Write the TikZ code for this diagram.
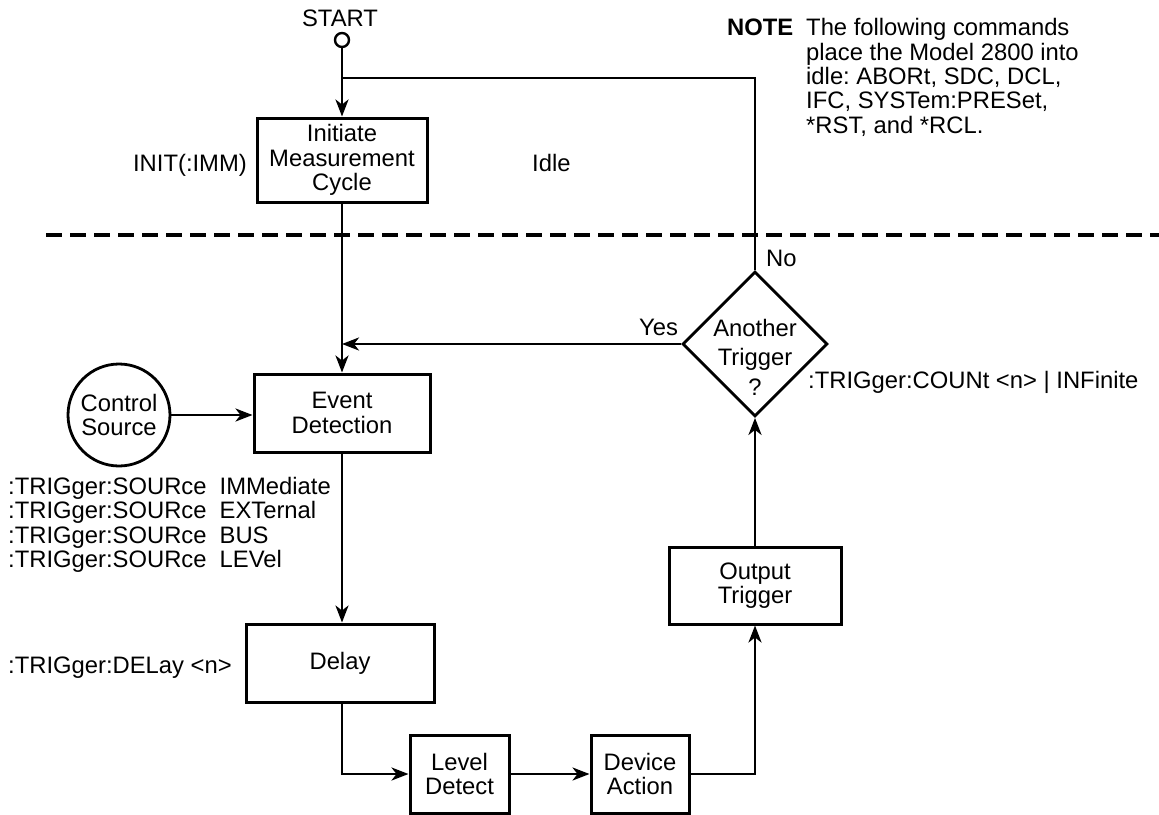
\documentclass[tikz,border=0pt]{standalone}
\usepackage{fontspec}
\setmainfont{Liberation Sans}
\usetikzlibrary{arrows.meta,shapes.geometric,calc}
\frenchspacing
\begin{document}
\begin{tikzpicture}[x=1pt,y=-1pt,
  every node/.style={font=\fontsize{23.8}{24.3}\selectfont, inner sep=0pt},
  box/.style={draw, line width=3pt, align=center},
  wire/.style={line width=2.6pt},
  flow/.style={wire, -{Stealth[length=17pt,width=13pt,inset=5pt]}},
  lbl/.style={anchor=base west},
]
\useasboundingbox (0,0) rectangle (1159,814);

% idle / armed boundary
\draw[line width=3.2pt, dash pattern=on 16pt off 8pt] (46,235) -- (1159,235);

% start point
\node[draw, circle, line width=2.4pt, minimum size=14pt] (start) at (342,40) {};
\node[anchor=base] (starttxt) at (340,26) {START};
\coordinate (join) at (342,78);

% flow blocks
\node[box, minimum width=170pt, minimum height=84pt] (init) at (342,160) {Initiate\\Measurement\\Cycle};
\node[box, minimum width=176pt, minimum height=78pt] (event) at (342,413) {Event\\Detection};
\node[box, minimum width=188pt, minimum height=78pt] (delay) at (340,663) {Delay};
\node[box, minimum width=99pt, minimum height=78pt] (level) at (459.5,774) {Level\\Detect};
\node[box, minimum width=98pt, minimum height=78pt] (device) at (640,774) {Device\\Action};
\node[box, minimum width=172pt, minimum height=77pt] (output) at (755,585.5) {Output\\Trigger};
\node[draw, diamond, line width=2.8pt, aspect=1, minimum width=145pt, minimum height=145pt,
      label={[align=center, font=\fontsize{23.8}{29.5}\selectfont, yshift=-13pt]center:{Another\\Trigger\\?}}]
      (query) at (755,344) {};
\node[draw, circle, line width=2.8pt, minimum size=102pt, align=center] (ctrl) at (119,415) {Control\\Source};

% connectors
\draw[flow] (start) -- (init);
\draw[wire] (query.north) |- (join);
\draw[flow] (init) -- (event);
\draw[flow] (query.west) -- (query.west -| event.north);
\draw[flow] (ctrl.east) -- (ctrl.east -| event.west);
\draw[flow] (event.south) -- (event.south |- delay.north);
\draw[flow] (event.south |- delay.south) |- (level.west);
\draw[flow] (level.east) -- (level.east -| device.west);
\draw[flow] (device.east) -| (output.south);
\draw[flow] (output) -- (query);

% labels
\node[anchor=base east] (initcmd) at (247,171) {INIT(:IMM)};
\node[lbl] (idle) at (532,171) {Idle};
\node[lbl] (no) at (766,266) {No};
\node[lbl] (yes) at (639,335) {Yes};
\node[lbl] (count) at (808,388) {:TRIGger:COUNt <n> | INFinite};
\node[lbl] (delaycmd) at (8,673) {:TRIGger:DELay <n>};
\node[anchor=north west, align=left] (srccmd) at (8,477)
  {:TRIGger:SOURce\hspace{0.55em}IMMediate\\
   :TRIGger:SOURce\hspace{0.55em}EXTernal\\
   :TRIGger:SOURce\hspace{0.55em}BUS\\
   :TRIGger:SOURce\hspace{0.55em}LEVel};

% note
\node[lbl, font=\fontsize{23.8}{24.3}\selectfont\bfseries] (notehead) at (727,35) {NOTE};
\node[anchor=north west, align=left] (notetext) at (806,18.5)
  {The following commands\\
   place the Model 2800 into\\
   idle: ABORt, SDC, DCL,\\
   IFC, SYSTem:PRESet,\\
   *RST, and *RCL.};
\end{tikzpicture}
\end{document}
